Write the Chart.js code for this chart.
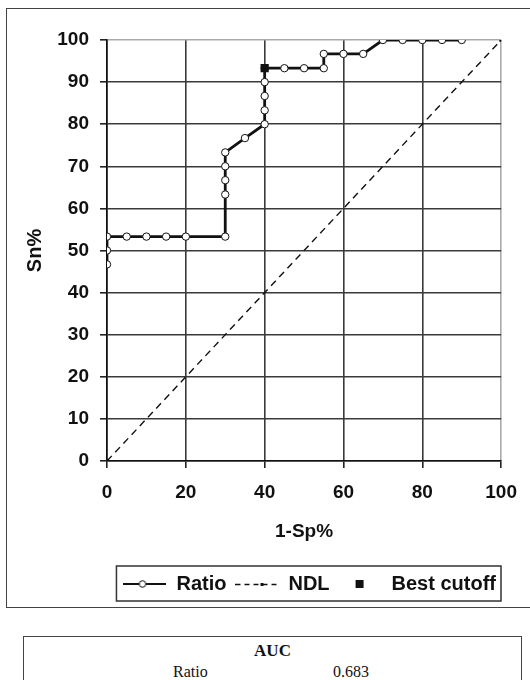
<!DOCTYPE html>
<html>
<head>
<meta charset="utf-8">
<script src="https://cdn.jsdelivr.net/npm/chart.js@4.4.1/dist/chart.umd.min.js"></script>
<style>
  body { margin:0; width:530px; height:680px; overflow:hidden; background:#fff; position:relative; }
  #frame { position:absolute; left:6px; top:8px; width:560px; height:598px; border:1.5px solid #444; }
  #roc { position:absolute; left:0; top:0; }
  #auc { position:absolute; left:23px; top:636px; width:497px; height:80px; border:1.5px solid #444;
         font-family:"Liberation Serif","Times New Roman",serif; color:#111; }
  #auc .h { position:absolute; left:0; width:100%; top:4px; text-align:center; font-weight:bold; font-size:17px; }
  #auc .n { position:absolute; left:149px; top:26px; font-size:16px; }
  #auc .v { position:absolute; left:309px; top:26px; font-size:16px; }
</style>
</head>
<body>
<div id="frame"></div>
<canvas id="roc" width="530" height="612"></canvas>
<div id="auc"><div class="h">AUC</div><div class="n">Ratio</div><div class="v">0.683</div></div>
<script>
// ROC curve for "Ratio" (1-Sp% vs Sn%)
const ratioX = [0, 0, 0, 5, 10, 15, 20, 30, 30, 30, 30, 30, 35, 40, 40, 40, 40, 40, 45, 50, 55, 55, 60, 65, 70, 75, 80, 85, 90];
const ratioY = [46.7, 50, 53.3, 53.3, 53.3, 53.3, 53.3, 53.3, 63.3, 66.7, 70, 73.3, 76.7, 80, 83.3, 86.7, 90, 93.3, 93.3, 93.3, 93.3, 96.7, 96.7, 96.7, 100, 100, 100, 100, 100];
// no discrimination line
const ndlX = [0, 100];
const ndlY = [0, 100];
// best cutoff
const bestX = [40];
const bestY = [93.3];

const xTicks = [0, 20, 40, 60, 80, 100];
const yTicks = [0, 10, 20, 30, 40, 50, 60, 70, 80, 90, 100];

const pts = (xs, ys) => xs.map((x, i) => ({x: x, y: ys[i]}));
const FONT = 'Liberation Sans, Arial, sans-serif';
const SYM_W = 43;

// little legend symbols
function symbol(draw) {
    const c = document.createElement('canvas');
    c.width = SYM_W; c.height = 14;
    draw(c.getContext('2d'));
    return c;
}
const symRatio = symbol(g => {
    g.strokeStyle = '#111'; g.lineWidth = 2;
    g.beginPath(); g.moveTo(0, 7); g.lineTo(SYM_W, 7); g.stroke();
    g.fillStyle = '#fff'; g.lineWidth = 1;
    g.beginPath(); g.arc(19, 7, 3.3, 0, Math.PI * 2); g.fill(); g.stroke();
});
const symNdl = symbol(g => {
    g.strokeStyle = '#111'; g.lineWidth = 1.3; g.setLineDash([5, 4]);
    g.beginPath(); g.moveTo(0, 7.5); g.lineTo(SYM_W, 7.5); g.stroke();
    g.fillStyle = '#111'; g.fillRect(25, 6, 3, 3);
});
const symBest = symbol(g => {
    g.fillStyle = '#111'; g.fillRect(17, 3, 8, 8);
});

const legendBox = {
    id: 'legendBox',
    afterDraw(chart) {
        const hb = chart.legend.legendHitBoxes;
        if (!hb || !hb.length) return;
        const last = hb[hb.length - 1];
        const ctx = chart.ctx;
        ctx.save();
        ctx.strokeStyle = '#333';
        ctx.lineWidth = 1.5;
        ctx.strokeRect(hb[0].left - 7, hb[0].top - 8, last.left + last.width + 5 - (hb[0].left - 7), hb[0].height + 15);
        ctx.restore();
    }
};

const gridColor = c => (c.tick && c.tick.value === 100) ? '#aaa' : '#3a3a3a';

new Chart(document.getElementById('roc'), {
    type: 'scatter',
    data: {
        datasets: [
            {
                label: 'Best cutoff',
                data: pts(bestX, bestY),
                order: 0,
                pointStyle: 'rect',
                pointRadius: 5.8,
                backgroundColor: '#111',
                borderColor: '#111',
                borderWidth: 0
            },
            {
                label: 'Ratio',
                data: pts(ratioX, ratioY),
                order: 1,
                showLine: true,
                borderColor: '#111',
                borderWidth: 2.8,
                pointRadius: 3.7,
                pointBackgroundColor: '#fff',
                pointBorderColor: '#111',
                pointBorderWidth: 1
            },
            {
                label: 'NDL',
                data: pts(ndlX, ndlY),
                order: 2,
                showLine: true,
                borderColor: '#111',
                borderWidth: 1.4,
                borderDash: [7, 5],
                pointStyle: 'rect',
                pointRadius: 1.6,
                backgroundColor: '#111'
            }
        ]
    },
    options: {
        responsive: false,
        animation: false,
        layout: { padding: { left: 0, right: 25, top: 40, bottom: 8 } },
        scales: {
            x: {
                type: 'linear', min: 0, max: 100,
                afterBuildTicks: s => { s.ticks = xTicks.map(v => ({value: v})); },
                afterFit: s => { s.height = 104; },
                grid: { color: gridColor, lineWidth: 1.6, tickLength: 7, tickColor: '#222' },
                border: { color: '#111', width: 1.6 },
                ticks: { color: '#111', padding: 13, font: { family: FONT, weight: 'bold', size: 19 } },
                title: { display: true, text: '1-Sp%', color: '#111', padding: { top: 0, bottom: 22 },
                         font: { family: FONT, weight: 'bold', size: 19 } }
            },
            y: {
                type: 'linear', min: 0, max: 100,
                afterBuildTicks: s => { s.ticks = yTicks.map(v => ({value: v})); },
                afterFit: s => { s.width = 107; },
                grid: { color: gridColor, lineWidth: 1.6, tickLength: 7, tickColor: '#222' },
                border: { color: '#111', width: 1.6 },
                ticks: { color: '#111', padding: 11, font: { family: FONT, weight: 'bold', size: 19 } },
                title: { display: true, text: 'Sn%', color: '#111', padding: { top: 23, bottom: 0 },
                         font: { family: FONT, weight: 'bold', size: 20 } }
            }
        },
        plugins: {
            tooltip: { enabled: false },
            legend: {
                position: 'bottom',
                align: 'end',
                labels: {
                    usePointStyle: true,
                    pointStyleWidth: SYM_W,
                    padding: 9,
                    color: '#111',
                    font: { family: FONT, weight: 'bold', size: 20 },
                    generateLabels: () => [
                        { text: 'Ratio', pointStyle: symRatio, fontColor: '#111', hidden: false, datasetIndex: 1, lineWidth: 0 },
                        { text: 'NDL', pointStyle: symNdl, fontColor: '#111', hidden: false, datasetIndex: 2, lineWidth: 0 },
                        { text: 'Best cutoff', pointStyle: symBest, fontColor: '#111', hidden: false, datasetIndex: 0, lineWidth: 0 }
                    ]
                }
            }
        }
    },
    plugins: [legendBox]
});
</script>
</body>
</html>
